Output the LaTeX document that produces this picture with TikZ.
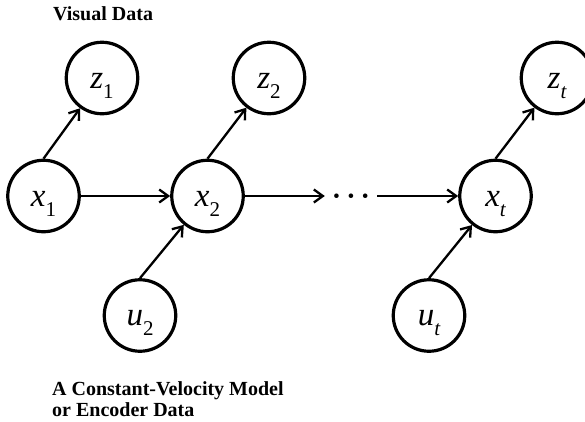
\documentclass[tikz,border=0pt]{standalone}
\usepackage{fontspec}
\setmainfont{Liberation Serif}
\usetikzlibrary{arrows.meta}
\newcommand{\vlab}[2]{{\fontsize{33}{33}\selectfont\itshape #1}\raisebox{-10pt}{\fontsize{21}{21}\selectfont #2}}
\begin{document}
\begin{tikzpicture}[x=1pt,y=-1pt,
  var/.style={draw, circle, line width=3.2pt, minimum size=71.5pt, inner sep=0pt, text height=20pt, text depth=0pt},
  arr/.style={line width=2.3pt, -{Straight Barb[length=9pt,width=13pt]}},
  caption/.style={font=\fontsize{20}{22}\selectfont\bfseries, anchor=base west, inner sep=0pt}]
\clip (0,0) rectangle (585,421);
\node[var] (z1) at (102,78) {\vlab{z}{1}};
\node[var] (z2) at (269,78) {\vlab{z}{2}};
\node[var] (zt) at (557,78) {\vlab{z}{\itshape t}};
\node[var] (x1) at (43.5,196) {\vlab{x}{1}};
\node[var] (x2) at (207.5,196) {\vlab{x}{2}};
\node[var] (xt) at (495.5,196) {\vlab{x}{\itshape t}};
\node[var] (u2) at (140,315.5) {\vlab{u}{2}};
\node[var] (ut) at (429,315.5) {\vlab{u}{\itshape t}};
\node[inner xsep=7pt, inner ysep=0pt, font=\fontsize{28}{28}\selectfont\bfseries] (dots) at (351,199.5)
  {\textperiodcentered\hspace{5pt}\textperiodcentered\hspace{5pt}\textperiodcentered};
\draw[arr] (x1.north) -- (z1);
\draw[arr] (x2.north) -- (z2);
\draw[arr] (xt.north) -- (zt);
\draw[arr] (u2.north) -- (x2);
\draw[arr] (ut.north) -- (xt);
\draw[arr] (x1) -- (x2);
\draw[arr] (x2) -- (dots.west |- x2);
\draw[arr] (dots.east |- xt) -- (xt);
\node[caption] (cap1) at (53,20) {Visual Data};
\node[caption] (cap2) at (52,395) {A Constant-Velocity Model};
\node[caption] (cap3) at (52,416) {or Encoder Data};
\end{tikzpicture}
\end{document}
